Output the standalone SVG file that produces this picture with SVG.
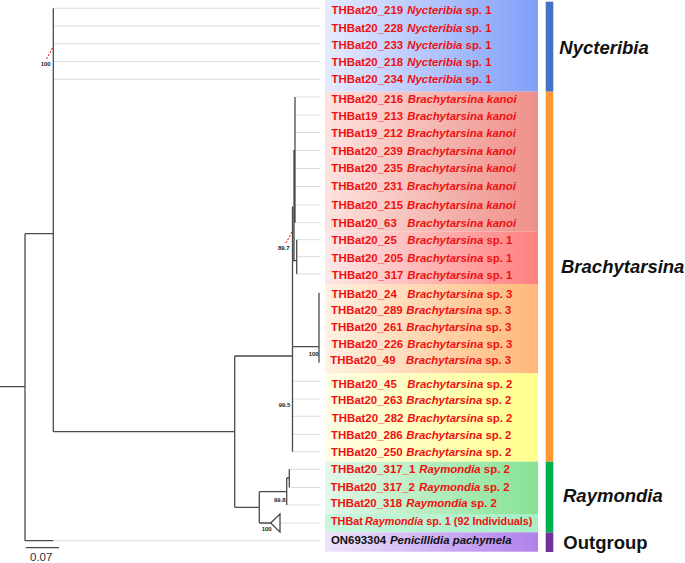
<svg xmlns="http://www.w3.org/2000/svg" width="685" height="563" viewBox="0 0 685 563">
<defs>
<linearGradient id="gN" x1="0" x2="1" y1="0" y2="0"><stop offset="0" stop-color="#e6ebfd"/><stop offset="1" stop-color="#7f9ff8"/></linearGradient>
<linearGradient id="gK" x1="0" x2="1" y1="0" y2="0"><stop offset="0" stop-color="#fde3df"/><stop offset="1" stop-color="#ee8f88"/></linearGradient>
<linearGradient id="gS1" x1="0" x2="1" y1="0" y2="0"><stop offset="0" stop-color="#fde8e8"/><stop offset="1" stop-color="#ff7f7f"/></linearGradient>
<linearGradient id="gS3" x1="0" x2="1" y1="0" y2="0"><stop offset="0" stop-color="#fff1e3"/><stop offset="1" stop-color="#ffb878"/></linearGradient>
<linearGradient id="gS2" x1="0" x2="1" y1="0" y2="0"><stop offset="0" stop-color="#fffde6"/><stop offset="1" stop-color="#ffff8c"/></linearGradient>
<linearGradient id="gR2" x1="0" x2="1" y1="0" y2="0"><stop offset="0" stop-color="#e4f8e9"/><stop offset="1" stop-color="#86e294"/></linearGradient>
<linearGradient id="gR1" x1="0" x2="1" y1="0" y2="0"><stop offset="0" stop-color="#c9f7de"/><stop offset="1" stop-color="#a6efc4"/></linearGradient>
<linearGradient id="gO" x1="0" x2="1" y1="0" y2="0"><stop offset="0" stop-color="#ede4fb"/><stop offset="1" stop-color="#b080ec"/></linearGradient>
</defs>
<style>
.t{font-family:"Liberation Sans",Arial,sans-serif;font-size:11.4px;font-weight:bold;fill:#f01010}
.sp{font-style:italic}
.br{fill:none;stroke:#4a4a4a;stroke-width:1.3}
.tip{stroke:#dcdcdc;stroke-width:1;fill:none}
.bs{font-family:"Liberation Sans",Arial,sans-serif;font-size:6px;font-weight:bold;fill:#222}
.cl{font-family:"Liberation Sans",Arial,sans-serif;font-size:18.5px;font-weight:bold;font-style:italic;fill:#111}
.dash{stroke:#e00000;stroke-width:1;stroke-dasharray:2 1.5;fill:none}
</style>
<rect width="685" height="563" fill="#ffffff"/>

<g id="bands">
<rect x="325" y="0" width="213" height="91.7" fill="url(#gN)"/>
<rect x="325" y="91.7" width="213" height="140" fill="url(#gK)"/>
<rect x="325" y="231.7" width="213" height="52.3" fill="url(#gS1)"/>
<rect x="325" y="284" width="213" height="89.3" fill="url(#gS3)"/>
<rect x="325" y="373.3" width="213" height="88.4" fill="url(#gS2)"/>
<rect x="325" y="461.7" width="213" height="52.3" fill="url(#gR2)"/>
<rect x="325" y="514" width="213" height="18.3" fill="url(#gR1)"/>
<rect x="325" y="532.3" width="213" height="19.4" fill="url(#gO)"/>
</g>

<g id="bars">
<rect x="545.7" y="1.7" width="7.6" height="90" fill="#4472c4"/>
<rect x="545.7" y="91.7" width="7.6" height="370" fill="#ff9933"/>
<rect x="545.7" y="461.7" width="7.6" height="71" fill="#00b050"/>
<rect x="545.7" y="532.7" width="7.6" height="19.3" fill="#7030a0"/>
</g>

<g id="connectors">
<path class="tip" d="M53.3 8.3H320M53.3 26H320M53.3 43.7H320M53.3 61.7H320M53.3 79.3H320
M295 97H320M295 115H320M295 132.5H320M295 150.5H320M295 168.5H320M295 186.5H320M295 205H320M295 222.7H320
M296.7 239.7H320M296.7 256.7H320M296.7 274H320
M292.5 381.3H320M292.5 399H320M292.5 416.3H320M292.5 434.3H320M292.5 451.7H320
M289.3 469.3H320M289.3 487.5H320M286.7 505H320M280 523H320M53.3 540.7H320"/>
<path class="br" d="M0 386.7H25M25 233.7V540.7M25 233.7H53.3M53.3 8.3V431.7M25 540.7H53.3M53.3 431.7H234.7
M234.7 356V507.3M234.7 356H292.5M292.5 206.5V451.7M294 150V260M295 97V222.7
M292.5 260.7H296.7M296.7 239.7V274M292.5 346.7H319M319 292.7V362.7
M234.7 507.3H259.3M259.3 491.7V523M259.3 491.7H286.7M286.7 478V505M286.7 478H289.3M289.3 469.3V487.5
M259.3 523H270.7M270.7 523L280 514V532Z"/>
<path class="br" d="M25.7 547.7H59"/>
<path class="dash" d="M46.5 59L53 47"/>
<path class="dash" d="M286 243L293 230"/>
</g>

<g id="support">
<text class="bs" x="40.7" y="65.5">100</text>
<text class="bs" x="278" y="250">89.7</text>
<text class="bs" x="308.7" y="355.5">100</text>
<text class="bs" x="278.7" y="407">99.5</text>
<text class="bs" x="274" y="501.5">99.8</text>
<text class="bs" x="261.7" y="531">100</text>
<text x="30" y="560.5" font-family="Liberation Sans, Arial, sans-serif" font-size="11.5" fill="#333">0.07</text>
</g>

<g id="n219"><text class="t" x="331.5" y="14.3">THBat20_219<tspan x="407.3" class="sp">Nycteribia</tspan> sp. 1</text></g>
<g id="n228"><text class="t" x="331.5" y="32">THBat20_228<tspan x="407.3" class="sp">Nycteribia</tspan> sp. 1</text></g>
<g id="n233"><text class="t" x="331.5" y="49.3">THBat20_233<tspan x="407.3" class="sp">Nycteribia</tspan> sp. 1</text></g>
<g id="n218"><text class="t" x="331.5" y="66.3">THBat20_218<tspan x="407.3" class="sp">Nycteribia</tspan> sp. 1</text></g>
<g id="n234"><text class="t" x="331.5" y="83.3">THBat20_234<tspan x="407.3" class="sp">Nycteribia</tspan> sp. 1</text></g>

<g id="k216"><text class="t" x="331.5" y="103.3">THBat20_216<tspan x="407.7" class="sp">Brachytarsina kanoi</tspan></text></g>
<g id="k213"><text class="t" x="331.5" y="120">THBat19_213<tspan x="407.3" class="sp">Brachytarsina kanoi</tspan></text></g>
<g id="k212"><text class="t" x="331.2" y="137.3">THBat19_212<tspan x="407" class="sp">Brachytarsina kanoi</tspan></text></g>
<g id="k239"><text class="t" x="331.2" y="155">THBat20_239<tspan x="407" class="sp">Brachytarsina kanoi</tspan></text></g>
<g id="k235"><text class="t" x="331.2" y="172.3">THBat20_235<tspan x="407" class="sp">Brachytarsina kanoi</tspan></text></g>
<g id="k231"><text class="t" x="331.2" y="190.3">THBat20_231<tspan x="407" class="sp">Brachytarsina kanoi</tspan></text></g>
<g id="k215"><text class="t" x="331.5" y="209">THBat20_215<tspan x="407" class="sp">Brachytarsina kanoi</tspan></text></g>
<g id="k63"><text class="t" x="331.5" y="226.7">THBat20_63<tspan x="407.3" class="sp">Brachytarsina kanoi</tspan></text></g>

<g id="s1_25"><text class="t" x="331.5" y="244.3">THBat20_25<tspan x="407.3" class="sp">Brachytarsina</tspan> sp. 1</text></g>
<g id="s1_205"><text class="t" x="331.5" y="261.7">THBat20_205<tspan x="407.3" class="sp">Brachytarsina</tspan> sp. 1</text></g>
<g id="s1_317"><text class="t" x="331.8" y="279.3">THBat20_317<tspan x="407.3" class="sp">Brachytarsina</tspan> sp. 1</text></g>

<g id="s3_24"><text class="t" x="331.5" y="297.7">THBat20_24<tspan x="407.3" class="sp">Brachytarsina</tspan> sp. 3</text></g>
<g id="s3_289"><text class="t" x="331" y="314.3">THBat20_289<tspan x="406.3" class="sp">Brachytarsina</tspan> sp. 3</text></g>
<g id="s3_261"><text class="t" x="331" y="330.7">THBat20_261<tspan x="406.3" class="sp">Brachytarsina</tspan> sp. 3</text></g>
<g id="s3_226"><text class="t" x="331.5" y="347.7">THBat20_226<tspan x="407.3" class="sp">Brachytarsina</tspan> sp. 3</text></g>
<g id="s3_49"><text class="t" x="330.3" y="364.3">THBat20_49<tspan x="406" class="sp">Brachytarsina</tspan> sp. 3</text></g>

<g id="s2_45"><text class="t" x="331.5" y="387.7">THBat20_45<tspan x="407.3" class="sp">Brachytarsina</tspan> sp. 2</text></g>
<g id="s2_263"><text class="t" x="331" y="404.3">THBat20_263<tspan x="406.3" class="sp">Brachytarsina</tspan> sp. 2</text></g>
<g id="s2_282"><text class="t" x="331.8" y="422.3">THBat20_282<tspan x="407.3" class="sp">Brachytarsina</tspan> sp. 2</text></g>
<g id="s2_286"><text class="t" x="331" y="439">THBat20_286<tspan x="406.3" class="sp">Brachytarsina</tspan> sp. 2</text></g>
<g id="s2_250"><text class="t" x="331" y="456">THBat20_250<tspan x="406.3" class="sp">Brachytarsina</tspan> sp. 2</text></g>

<g id="r317_1"><text class="t" x="331" y="473.3">THBat20_317_1<tspan x="419.3" class="sp">Raymondia</tspan> sp. 2</text></g>
<g id="r317_2"><text class="t" x="330.5" y="490.7">THBat20_317_2<tspan x="419" class="sp">Raymondia</tspan> sp. 2</text></g>
<g id="r318"><text class="t" x="330.5" y="506.7">THBat20_318<tspan x="406.3" class="sp">Raymondia</tspan> sp. 2</text></g>
<g id="rsp1"><text class="t" x="331" y="525" style="font-size:10.8px">THBat<tspan x="365" class="sp">Raymondia</tspan> sp. 1 (92 Individuals)</text></g>
<g id="outgroup"><text class="t" x="331" y="544" style="fill:#111">ON693304<tspan x="390" class="sp">Penicillidia pachymela</tspan></text></g>

<g id="clade-labels">
<text class="cl" x="559.3" y="54.3">Nycteribia</text>
<text class="cl" x="561" y="273.3">Brachytarsina</text>
<text class="cl" x="563" y="502.3">Raymondia</text>
<text class="cl" x="563.3" y="549" style="font-style:normal">Outgroup</text>
</g>
</svg>
